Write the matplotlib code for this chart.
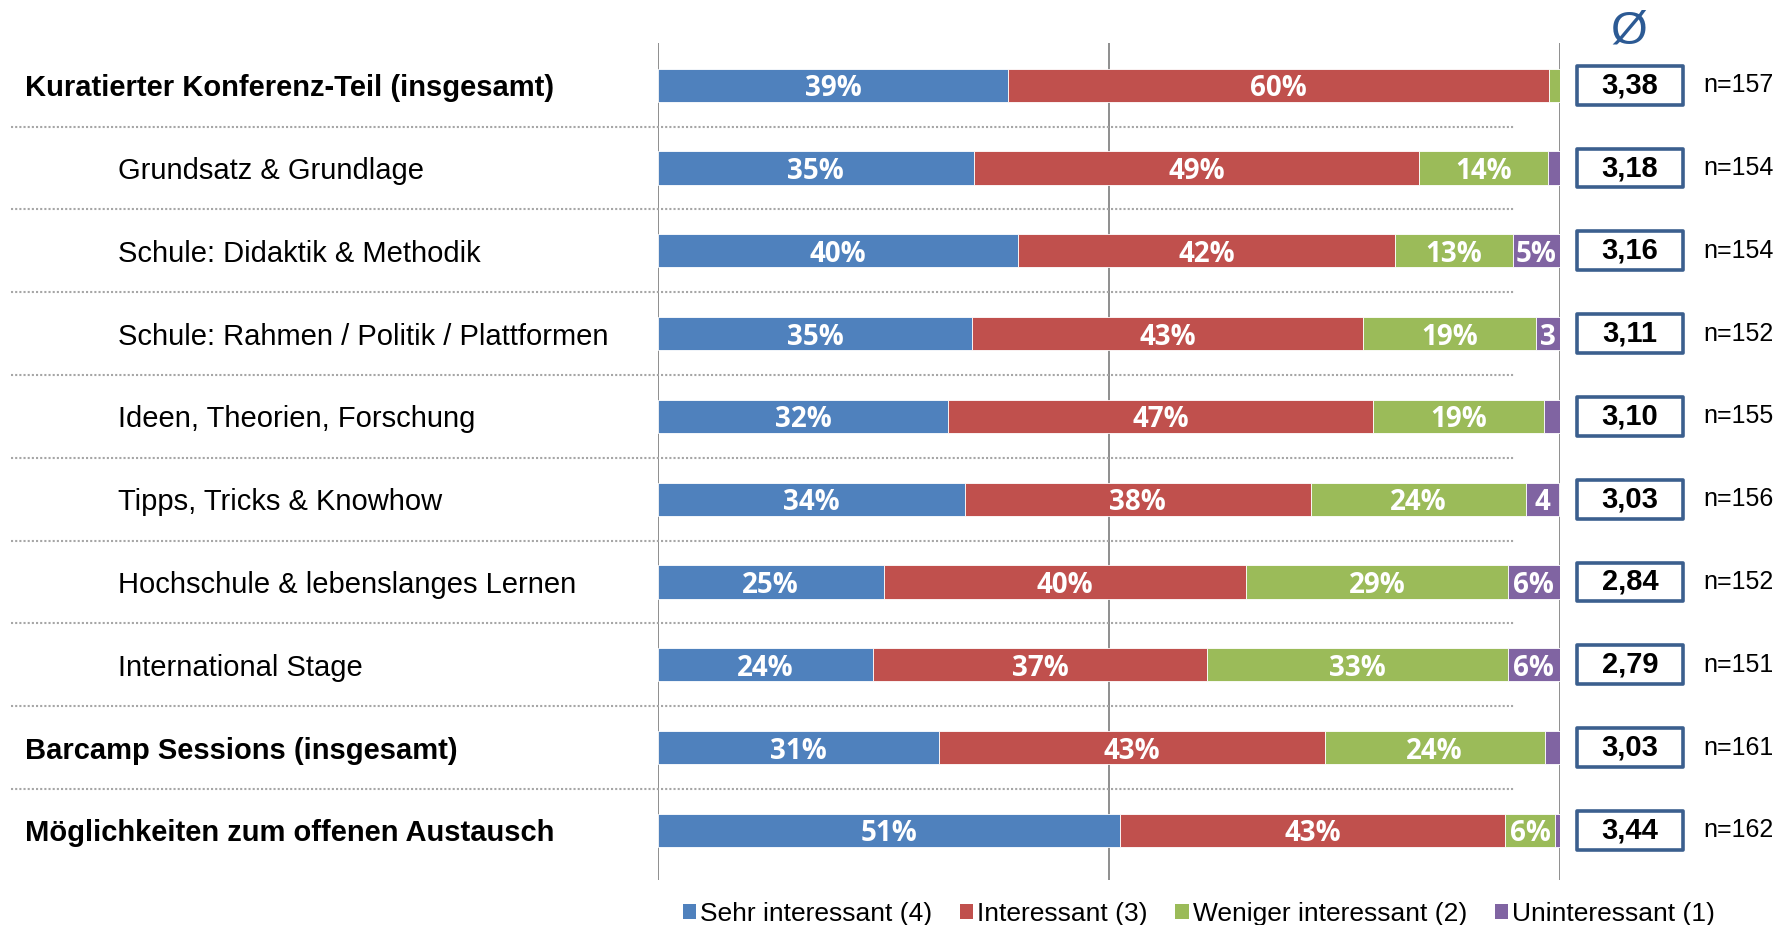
import matplotlib
matplotlib.use("Agg")
import matplotlib.pyplot as plt
from matplotlib.patches import Patch, Rectangle

plt.rcParams["font.family"] = ["Liberation Sans", "DejaVu Sans"]

CATEGORIES = [
    "Kuratierter Konferenz-Teil (insgesamt)",
    "Grundsatz & Grundlage",
    "Schule: Didaktik & Methodik",
    "Schule: Rahmen / Politik / Plattformen",
    "Ideen, Theorien, Forschung",
    "Tipps, Tricks & Knowhow",
    "Hochschule & lebenslanges Lernen",
    "International Stage",
    "Barcamp Sessions (insgesamt)",
    "Möglichkeiten zum offenen Austausch",
]
IS_HEADLINE = [True, False, False, False, False, False, False, False, True, True]

SEHR = [38.8, 35.0, 39.9, 34.8, 32.2, 34.0, 25.0, 23.8, 31.1, 51.2]
INTERESSANT = [60.0, 49.4, 41.8, 43.4, 47.1, 38.4, 40.2, 37.1, 42.8, 42.7]
WENIGER = [1.2, 14.3, 13.1, 19.2, 18.9, 23.8, 29.0, 33.3, 24.4, 5.6]
UNINTERESSANT = [0.0, 1.3, 5.2, 2.6, 1.8, 3.7, 5.8, 5.8, 1.7, 0.5]

MEANS = ["3,38", "3,18", "3,16", "3,11", "3,10", "3,03", "2,84", "2,79", "3,03", "3,44"]
N_VALUES = [157, 154, 154, 152, 155, 156, 152, 151, 161, 162]

SERIES_NAMES = ["Sehr interessant (4)", "Interessant (3)", "Weniger interessant (2)", "Uninteressant (1)"]
COLORS = ["#4F81BD", "#C0504D", "#9BBB59", "#8064A2"]
BOX_BLUE = "#3B5F8E"


def pct_label(v):
    if v >= 5:
        return f"{v:.0f}%"
    if v >= 2.5:
        return f"{v:.0f}"
    return ""


fig = plt.figure(figsize=(17.92, 9.25), dpi=100)
ax = fig.add_axes([0.3672, 0.0486, 0.5033, 0.9049])

rows = list(range(len(CATEGORIES)))
left = [0.0] * len(rows)
for values, color in zip([SEHR, INTERESSANT, WENIGER, UNINTERESSANT], COLORS):
    ax.barh(rows, values, left=left, height=0.4, color=color, edgecolor="white",
            linewidth=0.6, zorder=3)
    for i, v in enumerate(values):
        label = pct_label(v)
        if label:
            ax.text(left[i] + v / 2, i, label, ha="center", va="center_baseline", color="white",
                    fontsize=20, fontweight="bold", family=["Open Sans", "DejaVu Sans"], zorder=4)
    left = [a + b for a, b in zip(left, values)]

ax.set_xlim(0, 100)
ax.set_ylim(9.6, -0.51)
for x in (0, 50, 100):
    ax.axvline(x, color="#868686", linewidth=1.3, zorder=1)
ax.axis("off")

ytrans = ax.get_yaxis_transform()
for i in range(len(rows) - 1):
    ax.plot([-0.7173, 0.949], [i + 0.5, i + 0.5], transform=ytrans, color="#A6A6A6",
            linestyle=(0, (1, 1)), linewidth=1.5, clip_on=False, zorder=2)

for i, (name, head) in enumerate(zip(CATEGORIES, IS_HEADLINE)):
    ax.text(-0.7018 if head else -0.5987, i, name, transform=ytrans, ha="left",
            va="center_baseline", fontsize=21, fontweight="bold" if head else "normal",
            color="black", clip_on=False)

for i, (m, n) in enumerate(zip(MEANS, N_VALUES)):
    ax.add_patch(Rectangle((1.0188, i - 0.235), 0.1176, 0.47, transform=ytrans, facecolor="white",
                           edgecolor=BOX_BLUE, linewidth=2.6, clip_on=False, joinstyle="round"))
    ax.text(1.0776, i, m, transform=ytrans, ha="center", va="center", fontsize=21,
            fontweight="bold", clip_on=False)
    ax.text(1.1585, i, f"n={n}", transform=ytrans, ha="left", va="center", fontsize=18,
            clip_on=False)

fig.text(0.909, 0.966, "Ø", ha="center", va="center", fontsize=34, color="#2C5A94")

handles = [Patch(facecolor=c, edgecolor="none", label=s) for c, s in zip(COLORS, SERIES_NAMES)]
fig.legend(handles=handles, loc="center", bbox_to_anchor=(0.669, 0.012), ncol=4, frameon=False,
           fontsize=19, handlelength=0.5, handleheight=0.5, handletextpad=0.15, columnspacing=1.05)

fig.savefig("out.png", dpi=100)
